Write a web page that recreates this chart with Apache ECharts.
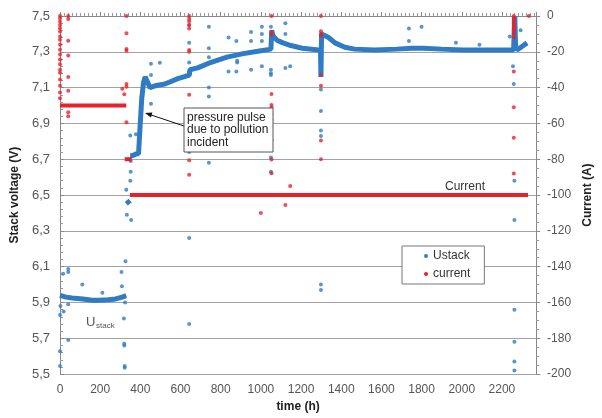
<!DOCTYPE html>
<html><head><meta charset="utf-8">
<script src="https://cdn.jsdelivr.net/npm/echarts@6/dist/echarts.min.js"></script>
<style>html,body{margin:0;padding:0;background:#fff}#c{width:602px;height:418px}</style>
</head><body><div id="c"></div>
<script>
// ---- data ----
// dense Ustack band (h, V); null = gap in the band
const uBandTime  = [0, 30, 60, 113, 160, 195, 240, 277, 310, 330, 331, 332, 347, 348, 349, 360, 380, 391, 399, 407, 416, 424, 448, 473, 522, 587, 644, 647, 685, 749, 831, 913, 993, 1050, 1054, 1060, 1080, 1110, 1149, 1206, 1287, 1297, 1299, 1302, 1337, 1369, 1418, 1467, 1565, 1677, 1750, 1809, 1900, 2005, 2100, 2200, 2258, 2264, 2268, 2275, 2300, 2325];
const uBandValue = [5.94, 5.93, 5.925, 5.92, 5.913, 5.912, 5.915, 5.92, 5.93, 5.938, null, 6.47, 6.45, null, 6.72, 6.72, 6.73, 6.73, 6.89, 7.04, 7.13, 7.16, 7.10, 7.11, 7.12, 7.15, 7.17, 7.20, 7.21, 7.24, 7.27, 7.29, 7.305, 7.315, 7.42, 7.39, 7.365, 7.35, 7.335, 7.32, 7.31, 7.30, 7.16, 7.40, 7.38, 7.35, 7.325, 7.315, 7.31, 7.315, 7.32, 7.32, 7.315, 7.31, 7.31, 7.31, 7.31, 7.50, 7.33, 7.31, 7.33, 7.35];
// scattered Ustack points
const uDotTime  = [0, 0, 0, 2, 16, 18, 41, 41, 41, 41, 111, 211, 306, 308, 326, 318, 320, 320, 322, 322, 324, 330, 333, 354, 350, 352, 352, 350, 378, 453, 453, 497, 453, 643, 643, 643, 643, 643, 643, 643, 741, 741, 741, 741, 741, 741, 839, 839, 878, 878, 882, 882, 951, 951, 951, 1005, 1005, 1005, 1005, 1050, 1050, 1050, 1050, 1050, 1050, 1050, 1050, 1050, 1122, 1122, 1122, 1146, 1299, 1299, 1299, 1299, 1299, 1299, 1737, 1737, 1800, 1971, 2088, 2239, 2255, 2259, 2262, 2262, 2262, 2262, 2262, 2262, 2293];
const uDotValue = [5.545, 5.627, 5.83, 5.88, 6.06, 5.85, 6.087, 6.07, 5.69, 5.89, 6.0, 5.955, 6.07, 5.99, 6.13, 5.81, 5.67, 5.66, 5.545, 5.535, 5.9, 6.53, 6.39, 6.36, 6.58, 6.63, 6.69, 6.833, 6.84, 7.01, 7.233, 7.239, 7.17, 7.45, 7.35, 7.24, 7.19, 6.74, 6.26, 5.78, 7.44, 7.32, 7.27, 7.10, 7.05, 6.68, 7.38, 7.19, 7.36, 7.19, 7.25, 7.24, 7.41, 7.36, 7.20, 7.44, 7.40, 7.36, 7.22, 7.44, 7.20, 7.18, 7.17, 6.96, 6.93, 6.80, 6.71, 6.63, 7.46, 7.40, 7.21, 7.22, 7.09, 6.97, 6.86, 6.83, 6.00, 5.97, 7.43, 7.36, 7.44, 7.35, 7.34, 7.386, 7.22, 7.12, 6.58, 6.36, 5.86, 5.68, 5.57, 5.52, 7.42];
// current set-point segments (A)
const cSegStart = [0, 322, 348];
const cSegEnd   = [330, 357, 2330];
const cSegLevel = [-50, -80, -100];
// scattered current points (h, A)
const cDotTime  = [0,0,0,0,0,0,0,0,0,0,0,0,0,0,0,0,0,0,0, 41,41,41,41,41,41,41,41, 331,331,331,331,310,320,331,331,331, 643,643,643,643,643,643,643,643,643,643,643, 1053,1053,1053,1053,1053,1053,1053,1053,1053,1053,1053, 1299,1299,1299,1299,1299,1299,1299,1299, 1000,1122,1146, 2259,2259,2259,2259,2259,2259,2259,2259,2259,2259,2259,2259,2259,2259,2259,2259, 2334];
const cDotValue = [0,-1.4,-3.2,-5,-6.8,-8.6,-11.4,-13.2,-16,-18.8,-21.5,-24.3,-27,-30,-31.7,-35.4,-39,-42.7,-46, 0,-1.7,-13.8,-22,-34,-41.8,-53.8,-56, 0,-9.6,-18.4,-19.4,-40.6,-43.7,-39.5,-38,-59.4, 0,-1.5,-3,-5,-7,-19,-20,-44,-53,-80.5,-88.7, 0,-9,-10.5,-43.6,-49.7,-51,-54.7,-58,-69.4,-80.1,-87.8, 0,-8.5,-10,-11,-33,-39,-69.6,-80, -110,-105.5,-95, 0,-1,-2,-3,-4,-5,-6,-7,-8,-9,-10,-12,-31,-51,-68,-88, 0];
// axis ticks
const xTicks = {min: 0, max: 2370, step: 200};
const vTicks = {min: 5.5, max: 7.5, step: 0.2};
const iTicks = {min: -200, max: 0, step: 20};

// ---- build ----
const BLUE = '#2f7bc4', RED = '#e8202a';
const FONT = 'Liberation Sans, Arial, sans-serif';
const bandData = uBandTime.map((t, i) => [t, uBandValue[i]]);
const uDots = uDotTime.map((t, i) => [t, uDotValue[i]]);
const cDots = cDotTime.map((t, i) => [t, cDotValue[i]]);
const segSeries = cSegStart.map((s, i) => ({
  name: 'current', type: 'line', yAxisIndex: 1, symbol: 'none', z: 4,
  data: [[s, cSegLevel[i]], [cSegEnd[i], cSegLevel[i]]],
  lineStyle: {color: RED, width: 4}, itemStyle: {color: RED}
}));

const chart = echarts.init(document.getElementById('c'), null, {renderer: 'canvas'});
chart.setOption({
  animation: false,
  backgroundColor: '#fff',
  grid: {left: 60, right: 55, top: 16, bottom: 40, containLabel: false},
  legend: {
    orient: 'vertical', left: 402, top: 246,
    data: [{name: 'Ustack', icon: 'circle'}, {name: 'current', icon: 'circle'}],
    itemWidth: 4, itemHeight: 4, itemGap: 6,
    padding: [4, 14, 4, 22],
    borderColor: '#777', borderWidth: 1, backgroundColor: '#fff',
    textStyle: {fontFamily: FONT, fontSize: 12, color: '#333', padding: [0, 0, 0, 0]}
  },
  xAxis: {
    type: 'value', min: xTicks.min, max: xTicks.max, interval: xTicks.step,
    name: 'time (h)', nameLocation: 'middle', nameGap: 19,
    nameTextStyle: {fontFamily: FONT, fontSize: 12, fontWeight: 'bold', color: '#222'},
    axisLine: {show: true, lineStyle: {color: '#888'}},
    axisTick: {show: true, inside: true, length: 4, lineStyle: {color: '#888'}},
    minorTick: {show: true, splitNumber: 10, length: 3, lineStyle: {color: '#999'}},
    splitLine: {show: false},
    axisLabel: {fontFamily: FONT, fontSize: 12, color: '#555', margin: 10,
      formatter: v => (v % 200 === 0 ? String(v) : '')}
  },
  yAxis: [{
    type: 'value', min: vTicks.min, max: vTicks.max, interval: vTicks.step,
    name: 'Stack voltage (V)', nameLocation: 'middle', nameGap: 37,
    nameTextStyle: {fontFamily: FONT, fontSize: 12, fontWeight: 'bold', color: '#222'},
    axisLine: {show: true, lineStyle: {color: '#888'}},
    axisTick: {show: true, inside: true, length: 4, lineStyle: {color: '#888'}},
    minorTick: {show: true, splitNumber: 5, length: 3, lineStyle: {color: '#999'}},
    splitLine: {show: true, lineStyle: {color: '#a3a3a3', width: 1}},
    axisLabel: {fontFamily: FONT, fontSize: 13, color: '#555', margin: 10,
      formatter: v => v.toFixed(1).replace('.', ',')}
  }, {
    type: 'value', min: iTicks.min, max: iTicks.max, interval: iTicks.step,
    position: 'right',
    name: 'Current (A)', nameLocation: 'middle', nameGap: 41,
    nameTextStyle: {fontFamily: FONT, fontSize: 12, fontWeight: 'bold', color: '#222'},
    axisLine: {show: true, lineStyle: {color: '#888'}},
    axisTick: {show: true, inside: false, length: 4, lineStyle: {color: '#888'}},
    minorTick: {show: true, splitNumber: 4, length: 3, lineStyle: {color: '#999'}},
    splitLine: {show: false},
    axisLabel: {fontFamily: FONT, fontSize: 12, color: '#555', margin: 11}
  }],
  series: [
    {name: 'Ustack', type: 'line', yAxisIndex: 0, symbol: 'none', z: 3, connectNulls: false,
     data: bandData, lineStyle: {color: BLUE, width: 5}, itemStyle: {color: BLUE}},
    {name: 'Ustack', type: 'scatter', yAxisIndex: 0, symbolSize: 4, z: 3,
     data: uDots, itemStyle: {color: BLUE}},
    ...segSeries,
    {name: 'current', type: 'scatter', yAxisIndex: 1, symbolSize: 4, z: 5,
     data: cDots, itemStyle: {color: RED}}
  ],
  graphic: [
    {type: 'line', shape: {x1: 184, y1: 126, x2: 150, y2: 114.6}, style: {stroke: '#111', lineWidth: 1}, z: 100},
    {type: 'polygon', shape: {points: [[145, 113], [152.4, 112.6], [150.9, 117.6]]}, style: {fill: '#111'}, z: 100},
    {type: 'rect', shape: {x: 184, y: 108, width: 89, height: 44}, style: {fill: '#fff', stroke: '#555', lineWidth: 1}, z: 100},
    {type: 'text', left: 187, top: 111, z: 101,
     style: {text: 'pressure pulse\ndue to pollution\nincident', font: '12px ' + FONT, fill: '#222', lineHeight: 12.5}},
    {type: 'text', left: 445, top: 181, z: 101,
     style: {text: 'Current', font: '12px ' + FONT, fill: '#333'}},
    {type: 'text', left: 86, top: 316, z: 101,
     style: {text: 'U', font: '13px ' + FONT, fill: '#555'}},
    {type: 'text', left: 96, top: 322, z: 101,
     style: {text: 'stack', font: '8px ' + FONT, fill: '#555'}}
  ]
});
</script></body></html>
